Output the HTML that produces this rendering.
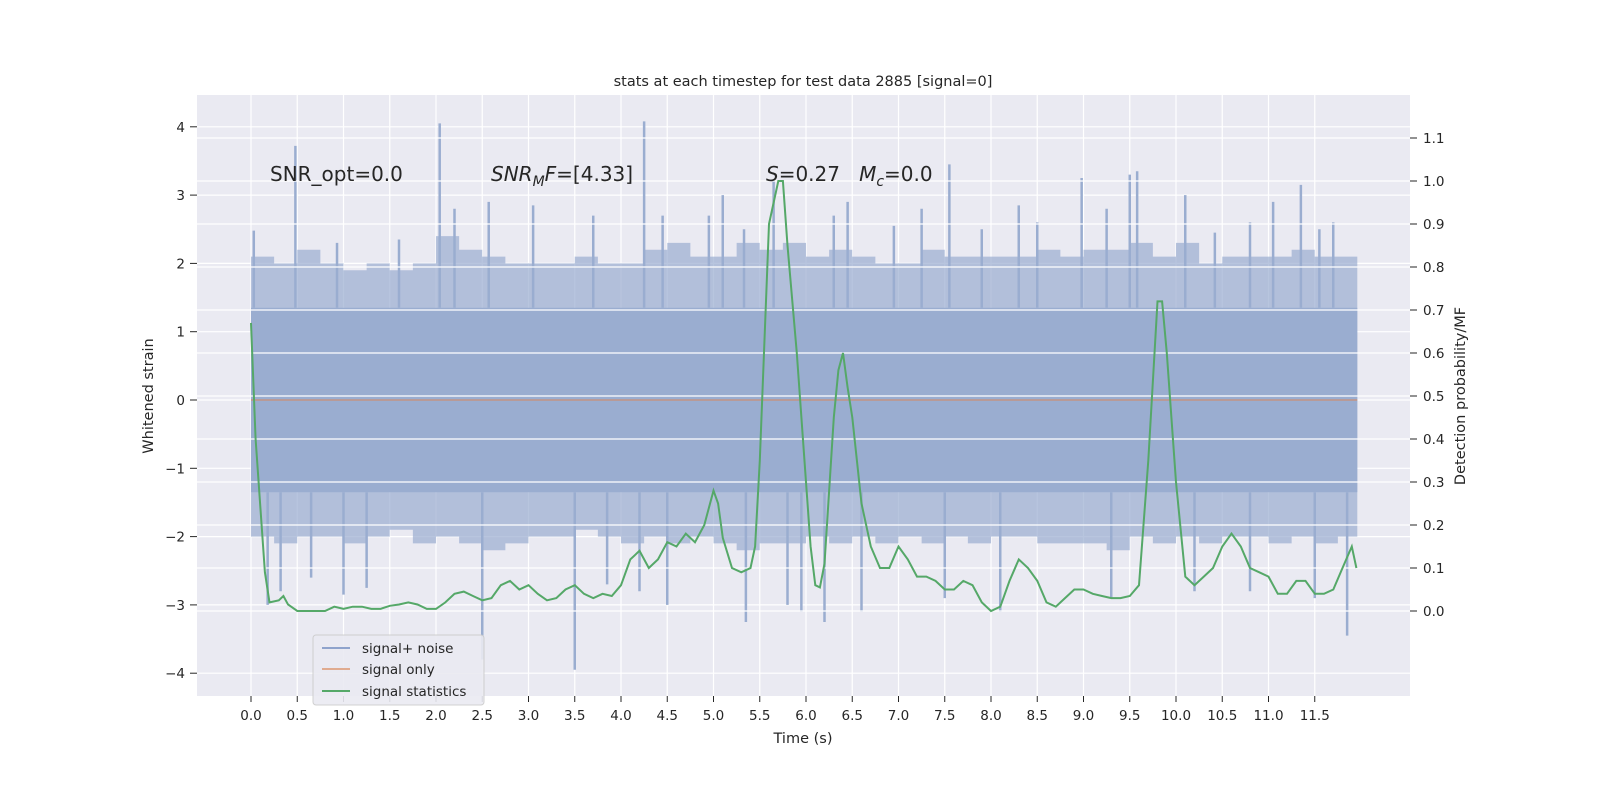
<!DOCTYPE html>
<html><head><meta charset="utf-8"><style>
body{margin:0;background:#fff;}
svg text{font-family:"DejaVu Sans","Liberation Sans",sans-serif;fill:#262626;}
</style></head><body>
<svg id="chart" width="1600" height="800">
<rect x="197" y="95" width="1213" height="601" fill="#eaeaf2"/>
<g id="grid"></g>
<g id="noise"></g>
<g id="rgrid"></g>
<g id="lines"></g>
<g id="axes"></g>
<text x="803" y="86" font-size="14.5" text-anchor="middle">stats at each timestep for test data 2885 [signal=0]</text>
<text x="270" y="181" font-size="20">SNR_opt=0.0</text>
<text x="491" y="181" font-size="20"><tspan font-style="italic">SNR</tspan><tspan font-style="italic" font-size="14" dy="5">M</tspan><tspan font-style="italic" dy="-5">F</tspan>=[4.33]</text>
<text x="766" y="181" font-size="20"><tspan font-style="italic">S</tspan>=0.27&#160;&#160;&#160;<tspan font-style="italic">M</tspan><tspan font-style="italic" font-size="14" dy="5">c</tspan><tspan dy="-5">=0.0</tspan></text>
<text x="803" y="743" font-size="14.5" text-anchor="middle">Time (s)</text>
<text transform="translate(153,396) rotate(-90)" font-size="14.5" text-anchor="middle">Whitened strain</text>
<text transform="translate(1465,396) rotate(-90)" font-size="14.5" text-anchor="middle">Detection probability/MF</text>
<g>
<rect x="313" y="635" width="171" height="70" rx="3" fill="#eaeaf2" stroke="#cccccc" opacity="0.9"/>
<line x1="322" y1="648" x2="350" y2="648" stroke="#8fa3cc" stroke-width="2"/>
<text x="362" y="653" font-size="13.5">signal+ noise</text>
<line x1="322" y1="669" x2="350" y2="669" stroke="#e0ab90" stroke-width="2"/>
<text x="362" y="674" font-size="13.5">signal only</text>
<line x1="322" y1="691" x2="350" y2="691" stroke="#55a868" stroke-width="2"/>
<text x="362" y="696" font-size="13.5">signal statistics</text>
</g>
</svg>
<script>
const statT=[0,0.05,0.15,0.2,0.3,0.35,0.4,0.5,0.6,0.7,0.8,0.9,1.0,1.1,1.2,1.3,1.4,1.5,1.6,1.7,1.8,1.9,2.0,2.1,2.2,2.3,2.4,2.5,2.6,2.7,2.8,2.9,3.0,3.1,3.2,3.3,3.4,3.5,3.6,3.7,3.8,3.9,4.0,4.1,4.2,4.3,4.4,4.5,4.6,4.7,4.8,4.9,5.0,5.05,5.1,5.2,5.3,5.4,5.45,5.5,5.6,5.7,5.75,5.8,5.9,6.0,6.05,6.1,6.15,6.2,6.3,6.35,6.4,6.45,6.5,6.6,6.7,6.8,6.9,7.0,7.1,7.2,7.3,7.4,7.5,7.6,7.7,7.8,7.9,8.0,8.1,8.2,8.3,8.4,8.5,8.6,8.7,8.8,8.9,9.0,9.1,9.2,9.3,9.4,9.5,9.6,9.7,9.8,9.85,9.9,10.0,10.1,10.2,10.3,10.4,10.5,10.6,10.7,10.8,10.9,11.0,11.1,11.2,11.3,11.4,11.5,11.6,11.7,11.8,11.9,11.95];
const statV=[0.67,0.4,0.09,0.02,0.025,0.035,0.015,0.0,0.0,0.0,0.0,0.01,0.005,0.01,0.01,0.005,0.005,0.012,0.015,0.02,0.015,0.005,0.005,0.02,0.04,0.045,0.035,0.025,0.03,0.06,0.07,0.05,0.06,0.04,0.025,0.03,0.05,0.06,0.04,0.03,0.04,0.035,0.06,0.12,0.14,0.1,0.12,0.16,0.15,0.18,0.16,0.2,0.28,0.25,0.17,0.1,0.09,0.1,0.15,0.35,0.9,1.0,1.0,0.85,0.6,0.3,0.15,0.06,0.055,0.11,0.45,0.56,0.6,0.52,0.45,0.25,0.15,0.1,0.1,0.15,0.12,0.08,0.08,0.07,0.05,0.05,0.07,0.06,0.02,0.0,0.01,0.07,0.12,0.1,0.07,0.02,0.01,0.03,0.05,0.05,0.04,0.035,0.03,0.03,0.035,0.06,0.35,0.72,0.72,0.6,0.3,0.08,0.06,0.08,0.1,0.15,0.18,0.15,0.1,0.09,0.08,0.04,0.04,0.07,0.07,0.04,0.04,0.05,0.1,0.15,0.1];
const hiSpikeT=[0.03,0.48,0.93,1.6,2.04,2.2,2.57,3.05,3.7,4.25,4.45,4.95,5.1,5.33,5.65,6.3,6.45,6.95,7.25,7.55,7.9,8.3,8.5,8.98,9.25,9.5,9.58,10.1,10.42,10.8,11.05,11.35,11.55,11.7];
const hiSpikeV=[2.48,3.72,2.3,2.35,4.05,2.8,2.9,2.85,2.7,4.08,2.7,2.7,3.0,2.5,3.2,2.7,2.9,2.55,2.8,3.45,2.5,2.85,2.6,3.25,2.8,3.3,3.35,3.0,2.45,2.6,2.9,3.15,2.5,2.6];
const loSpikeT=[0.18,0.32,0.65,1.0,1.25,2.5,3.5,3.85,4.2,4.5,5.35,5.8,5.95,6.2,6.6,7.5,8.1,9.3,10.2,10.8,11.5,11.85];
const loSpikeV=[-3.0,-2.8,-2.6,-2.85,-2.75,-3.8,-3.95,-2.7,-2.8,-3.0,-3.25,-3.0,-3.1,-3.25,-3.1,-2.9,-3.1,-2.9,-2.8,-2.8,-2.9,-3.45];
const upperEnv=[2.1,2.0,2.2,2.0,1.9,2.0,1.9,2.0,2.4,2.2,2.1,2.0,2.0,2.0,2.1,2.0,2.0,2.2,2.3,2.1,2.1,2.3,2.2,2.3,2.1,2.2,2.1,2.0,2.0,2.2,2.1,2.1,2.1,2.1,2.2,2.1,2.2,2.2,2.3,2.1,2.3,2.0,2.1,2.1,2.1,2.2,2.1,2.1];
const lowerEnv=[-2.0,-2.1,-2.0,-2.0,-2.1,-2.0,-1.9,-2.1,-2.0,-2.1,-2.2,-2.1,-2.0,-2.0,-1.9,-2.0,-2.1,-2.0,-2.1,-2.0,-2.1,-2.2,-2.1,-2.1,-2.0,-2.1,-2.0,-2.1,-2.0,-2.1,-2.0,-2.1,-2.0,-2.0,-2.1,-2.1,-2.1,-2.2,-2.0,-2.1,-2.0,-2.1,-2.0,-2.0,-2.1,-2.0,-2.1,-2.0];
const xTicks=[0,0.5,1,1.5,2,2.5,3,3.5,4,4.5,5,5.5,6,6.5,7,7.5,8,8.5,9,9.5,10,10.5,11,11.5];
const yTicks=[-4,-3,-2,-1,0,1,2,3,4];
const rTicks=[0,0.1,0.2,0.3,0.4,0.5,0.6,0.7,0.8,0.9,1.0,1.1];
const tEnd=11.96;

const X=t=>251+t*92.5;
const Y=v=>400-v*68.3;
const R=p=>611-p*430;
const NS='http://www.w3.org/2000/svg';
function mk(tag,attrs,parent){const e=document.createElementNS(NS,tag);for(const k in attrs)e.setAttribute(k,attrs[k]);document.getElementById(parent).appendChild(e);return e;}

xTicks.forEach(t=>{
  const g=mk('line',{x1:X(t),x2:X(t),y1:95,y2:696,stroke:'#fff','stroke-width':1.2},'grid');
  
  
  const tk=mk('line',{x1:X(t),x2:X(t),y1:696,y2:702,stroke:'#262626'},'axes');
  
  
  const l=mk('text',{x:X(t),y:720,'font-size':13.5,'text-anchor':'middle'},'axes');
  l.textContent=t.toFixed(1);
  
  
});
yTicks.forEach(v=>{
  const g=mk('line',{x1:197,x2:1410,y1:Y(v),y2:Y(v),stroke:'#fff','stroke-width':1.2},'grid');
  
  
  const tk=mk('line',{x1:190,x2:197,y1:Y(v),y2:Y(v),stroke:'#262626'},'axes');
  
  
  const l=mk('text',{x:185,y:Y(v)+5,'font-size':13.5,'text-anchor':'end'},'axes');
  l.textContent=v<0?'\u2212'+(-v):String(v);
  
  
});
let up=[],lo=[];
upperEnv.forEach((v,i)=>{const t0=i*0.25,t1=Math.min(tEnd,t0+0.25);up.push(X(t0)+','+Y(v),X(t1)+','+Y(v));});
lowerEnv.forEach((v,i)=>{const t0=i*0.25,t1=Math.min(tEnd,t0+0.25);lo.push(X(t0)+','+Y(v),X(t1)+','+Y(v));});
const env=mk('polygon',{points:up.concat(lo.reverse()).join(' '),fill:'#9aadd0',opacity:0.7},'noise');


const core=mk('rect',{x:X(0),y:Y(1.35),width:X(tEnd)-X(0),height:Y(-1.35)-Y(1.35),fill:'#9aadd0'},'noise');


hiSpikeT.forEach((t,i)=>{
  const s=mk('line',{x1:X(t),x2:X(t),y1:Y(1.35),y2:Y(hiSpikeV[i]),stroke:'#9aadd0','stroke-width':2.5},'noise');
  
  
});
loSpikeT.forEach((t,i)=>{
  const s=mk('line',{x1:X(t),x2:X(t),y1:Y(-1.35),y2:Y(loSpikeV[i]),stroke:'#9aadd0','stroke-width':2.5},'noise');
  
  
});
rTicks.forEach(p=>{
  const g=mk('line',{x1:197,x2:1410,y1:R(p),y2:R(p),stroke:'#fff','stroke-width':1.2},'rgrid');
  
  
  const tk=mk('line',{x1:1410,x2:1417,y1:R(p),y2:R(p),stroke:'#262626'},'axes');
  
  
  const l=mk('text',{x:1423,y:R(p)+5,'font-size':13.5},'axes');
  l.textContent=p.toFixed(1);
  
  
});
const sig=mk('line',{x1:X(0),x2:X(tEnd),y1:Y(0),y2:Y(0),stroke:'#dd8452','stroke-width':1.5,opacity:0.6},'lines');


const pts=statT.map((t,i)=>X(t).toFixed(1)+','+R(statV[i]).toFixed(1)).join(' ');
const st=mk('polyline',{points:pts,fill:'none',stroke:'#55a868','stroke-width':2},'lines');


</script>
</body></html>
